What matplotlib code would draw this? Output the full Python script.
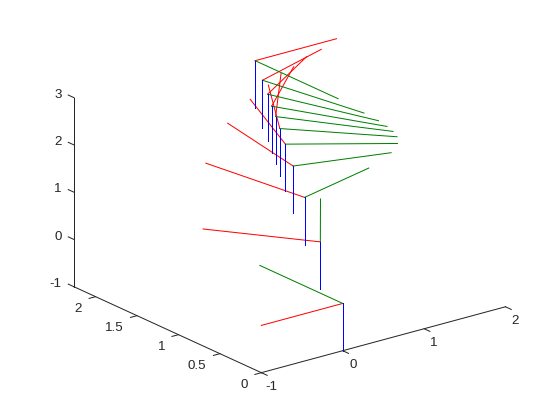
import matplotlib
matplotlib.use("Agg")
import matplotlib.pyplot as plt
from mpl_toolkits.mplot3d import proj3d

plt.rcParams["font.family"] = ["Liberation Sans", "DejaVu Sans"]

# frame origins, last frame first
org_x = [0, 0.336, 0.55, 0.613, 0.681, 0.704, 0.754, 0.807, 0.86, 0.949, 1.012]
org_y = [0, 0.6, 1.0, 1.2, 1.36, 1.45, 1.55, 1.65, 1.75, 1.9, 2.05]
org_z = [0, 0.664, 1.184, 1.657, 1.96, 2.207, 2.357, 2.471, 2.62, 2.753, 3.017]

# frame axes, x/y parts (blue one always points straight down)
red_x = [-1.0, -0.69, -0.187, 0.216, 0.484, 0.645, 0.772, 0.836, 0.934, 0.976, 1.0]
red_y = [0.0, 0.738, 1.008, 1.002, 0.9, 0.772, 0.692, 0.555, 0.447, 0.249, 0.0]
green_x = [0.0, 0.724, 0.991, 0.983, 0.878, 0.768, 0.657, 0.551, 0.41, 0.232, 0.0]
green_y = [1.0, 0.709, 0.199, -0.217, -0.49, -0.66, -0.771, -0.851, -0.935, -0.997, -1.0]
blue_z = [-1.0] * 11

x_lim = (-1, 2)
y_lim = (0, 2.26)
z_lim = (-1, 3)
x_ticks = [-1, 0, 1, 2]
y_ticks = [0, 0.5, 1, 1.5, 2]
z_ticks = [-1, 0, 1, 2, 3]
x_labels = ["-1", "0", "1", "2"]
y_labels = ["0", "0.5", "1", "1.5", "2"]
z_labels = ["-1", "0", "1", "2", "3"]

AX_COL = "#262626"
LW = 0.72

fig = plt.figure(figsize=(5.6, 4.2), dpi=100)
ax = fig.add_axes([-69.7 / 560, -141.7 / 420, 700 / 560, 700 / 420], projection="3d",
                  proj_type="ortho", computed_zorder=False)
ax.view_init(elev=20.6, azim=-127.5)
ax.set_xlim(*x_lim)
ax.set_ylim(*y_lim)
ax.set_zlim(*z_lim)
ax.set_box_aspect((1, 1, 0.6565), zoom=0.6653)
ax.set_axis_off()


def tick_label(x, y, z, s, off, ha):
    # 3d text loses its place after drawing, so annotate the projected point
    px, py, _ = proj3d.proj_transform(x, y, z, ax.get_proj())
    ax.annotate(s, (px, py), xytext=off, textcoords="offset pixels", color=AX_COL,
                fontsize=9.6, ha=ha, va="center")


for i in range(len(org_x)):
    ox, oy, oz = org_x[i], org_y[i], org_z[i]
    ax.plot([ox, ox + red_x[i]], [oy, oy + red_y[i]], [oz, oz], color="#ff0000", lw=LW)
    ax.plot([ox, ox + green_x[i]], [oy, oy + green_y[i]], [oz, oz], color="#008000", lw=LW)
    ax.plot([ox, ox], [oy, oy], [oz, oz + blue_z[i]], color="#0000ff", lw=LW)

# box edges as MATLAB draws them
ax.plot(x_lim, [y_lim[0]] * 2, [z_lim[0]] * 2, color=AX_COL, lw=LW)
ax.plot([x_lim[0]] * 2, y_lim, [z_lim[0]] * 2, color=AX_COL, lw=LW)
ax.plot([x_lim[0]] * 2, [y_lim[1]] * 2, z_lim, color=AX_COL, lw=LW)

for t, s in zip(x_ticks, x_labels):
    ax.plot([t, t], [0, -0.07], [-1, -1], color=AX_COL, lw=LW)
    tick_label(t, 0, -1, s, (10, -14), "center")
for t, s in zip(y_ticks, y_labels):
    ax.plot([-1, -1.08], [t, t], [-1, -1], color=AX_COL, lw=LW)
    tick_label(-1, t, -1, s, (-13.5, -12), "right")
for t, s in zip(z_ticks, z_labels):
    ax.plot([-1, -1], [y_lim[1], y_lim[1] + 0.07], [t, t], color=AX_COL, lw=LW)
    tick_label(-1, y_lim[1], t, s, (-12.5, 3), "right")

fig.savefig("out.png", dpi=100)
